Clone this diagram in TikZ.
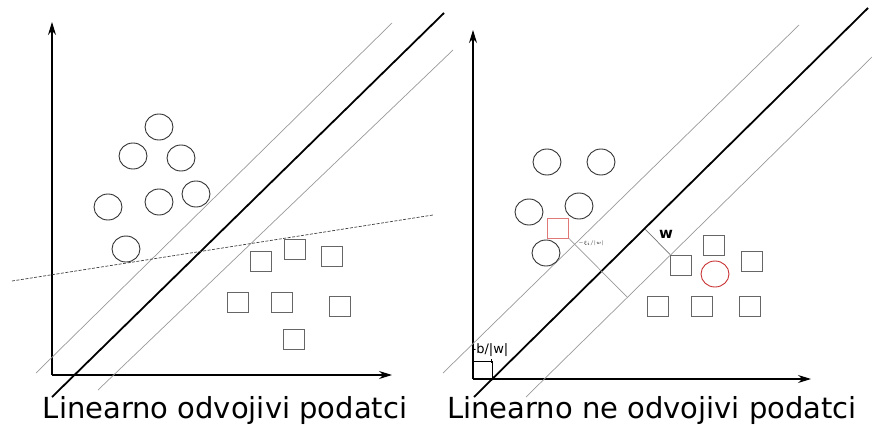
\documentclass[tikz,border=0pt]{standalone}
\usepackage{fontspec}
\setmainfont{DejaVu Sans}
\usetikzlibrary{arrows.meta, shapes.geometric, positioning}
\definecolor{errred}{RGB}{200,50,50}
\definecolor{errpink}{RGB}{225,120,120}

\begin{document}
\begin{tikzpicture}
  [x=1pt, y=-1pt,
   ring/.style={ellipse, draw=black!80, line width=0.9pt, minimum width=28pt, minimum height=26pt, inner sep=0pt},
   box/.style={rectangle, draw=black!60, line width=0.9pt, minimum width=21pt, minimum height=20pt, inner sep=0pt},
   axis/.style={line width=1.1pt, -{Stealth[length=13pt, width=8pt]}},
   hyper/.style={line width=1.8pt},
   margin/.style={draw=black!40, line width=0.7pt},
   caption/.style={font=\fontsize{29}{30}\selectfont, inner sep=0pt, anchor=base}]
  \useasboundingbox (0,0) rectangle (872,425);

  % left: linearly separable
  \coordinate (o1) at (52,375);
  \coordinate (yt1) at (52,22);
  \coordinate (xt1) at (392,375);
  \draw [axis] (o1) -- (yt1);
  \draw [axis] (o1) -- (xt1);
  \coordinate (h1a) at (52,397);
  \coordinate (h1b) at (444,13);
  \coordinate (u1a) at (36,373);
  \coordinate (u1b) at (392,23);
  \coordinate (l1a) at (98,390);
  \coordinate (l1b) at (453,50);
  \draw [margin] (u1a) -- (u1b);
  \draw [margin] (l1a) -- (l1b);
  \draw [hyper] (h1a) -- (h1b);
  \coordinate (d1a) at (12,281);
  \coordinate (d1b) at (433,215);
  \draw [black!75, line width=0.7pt, dash pattern=on 3pt off 1.5pt] (d1a) -- (d1b);
  \foreach \n/\x/\y in {1/159/127, 2/133/156, 3/181/158, 4/108/207, 5/159/202, 6/196/194, 7/126/249}
    \node [ring] (c\n) at (\x,\y) {};
  \foreach \n/\x/\y in {1/261/261, 2/295/249, 3/332/256, 4/238/302, 5/282/302, 6/340/306, 7/294/339}
    \node [box] (s\n) at (\x,\y) {};
  \node [caption] (cap1) at (225,418) {Linearno odvojivi podatci};

  % right: not linearly separable
  \coordinate (o2) at (473,379);
  \coordinate (yt2) at (473,30);
  \coordinate (xt2) at (811,379);
  \draw [axis] (o2) -- (yt2);
  \draw [axis] (o2) -- (xt2);
  \coordinate (h2a) at (474,397);
  \coordinate (h2b) at (868,8);
  \coordinate (u2a) at (443,373);
  \coordinate (u2b) at (799,25);
  \coordinate (l2a) at (526,397);
  \coordinate (l2b) at (872,57);
  \draw [margin] (u2a) -- (u2b);
  \draw [margin] (l2a) -- (l2b);
  \draw [hyper] (h2a) -- (h2b);
  \foreach \n/\x/\y in {1/547/162, 2/601/162, 3/529/212, 4/579/206, 5/546/253}
    \node [ring] (rc\n) at (\x,\y) {};
  \node [ring, draw=errred] (rcx) at (715,274) {};
  \foreach \n/\x/\y in {1/714/245, 2/681/265, 3/752/261, 4/658/306, 5/702/306, 6/750/306}
    \node [box] (rs\n) at (\x,\y) {};
  \node [box, draw=errpink] (rsx) at (558,228) {};
  % slack and margin width
  \coordinate (m2) at (627,297);
  \draw [margin] (rsx.south east) -- (m2);
  \node (xi) at (591,243) {\fontsize{4}{4}\selectfont $-\xi_i/|w|$};
  \coordinate (w0) at (645,229);
  \draw [margin, draw=black!55] (w0) -- (rs2.north west);
  \node (wlab) at (666,234) {\fontsize{15}{15}\selectfont\bfseries w};
  % offset
  \coordinate (b0) at (473,361);
  \coordinate (b1) at (492,361);
  \coordinate (b2) at (492,379);
  \draw [line width=0.6pt, {Bar[width=4pt]}-{Bar[width=4pt]}] (b0) -- (b1);
  \draw [line width=0.6pt] (b1) -- (b2);
  \node (blab) at (490,350) {\fontsize{13}{13}\selectfont -b/|w|};
  \node [caption] (cap2) at (652,418) {Linearno ne odvojivi podatci};
\end{tikzpicture}
\end{document}
